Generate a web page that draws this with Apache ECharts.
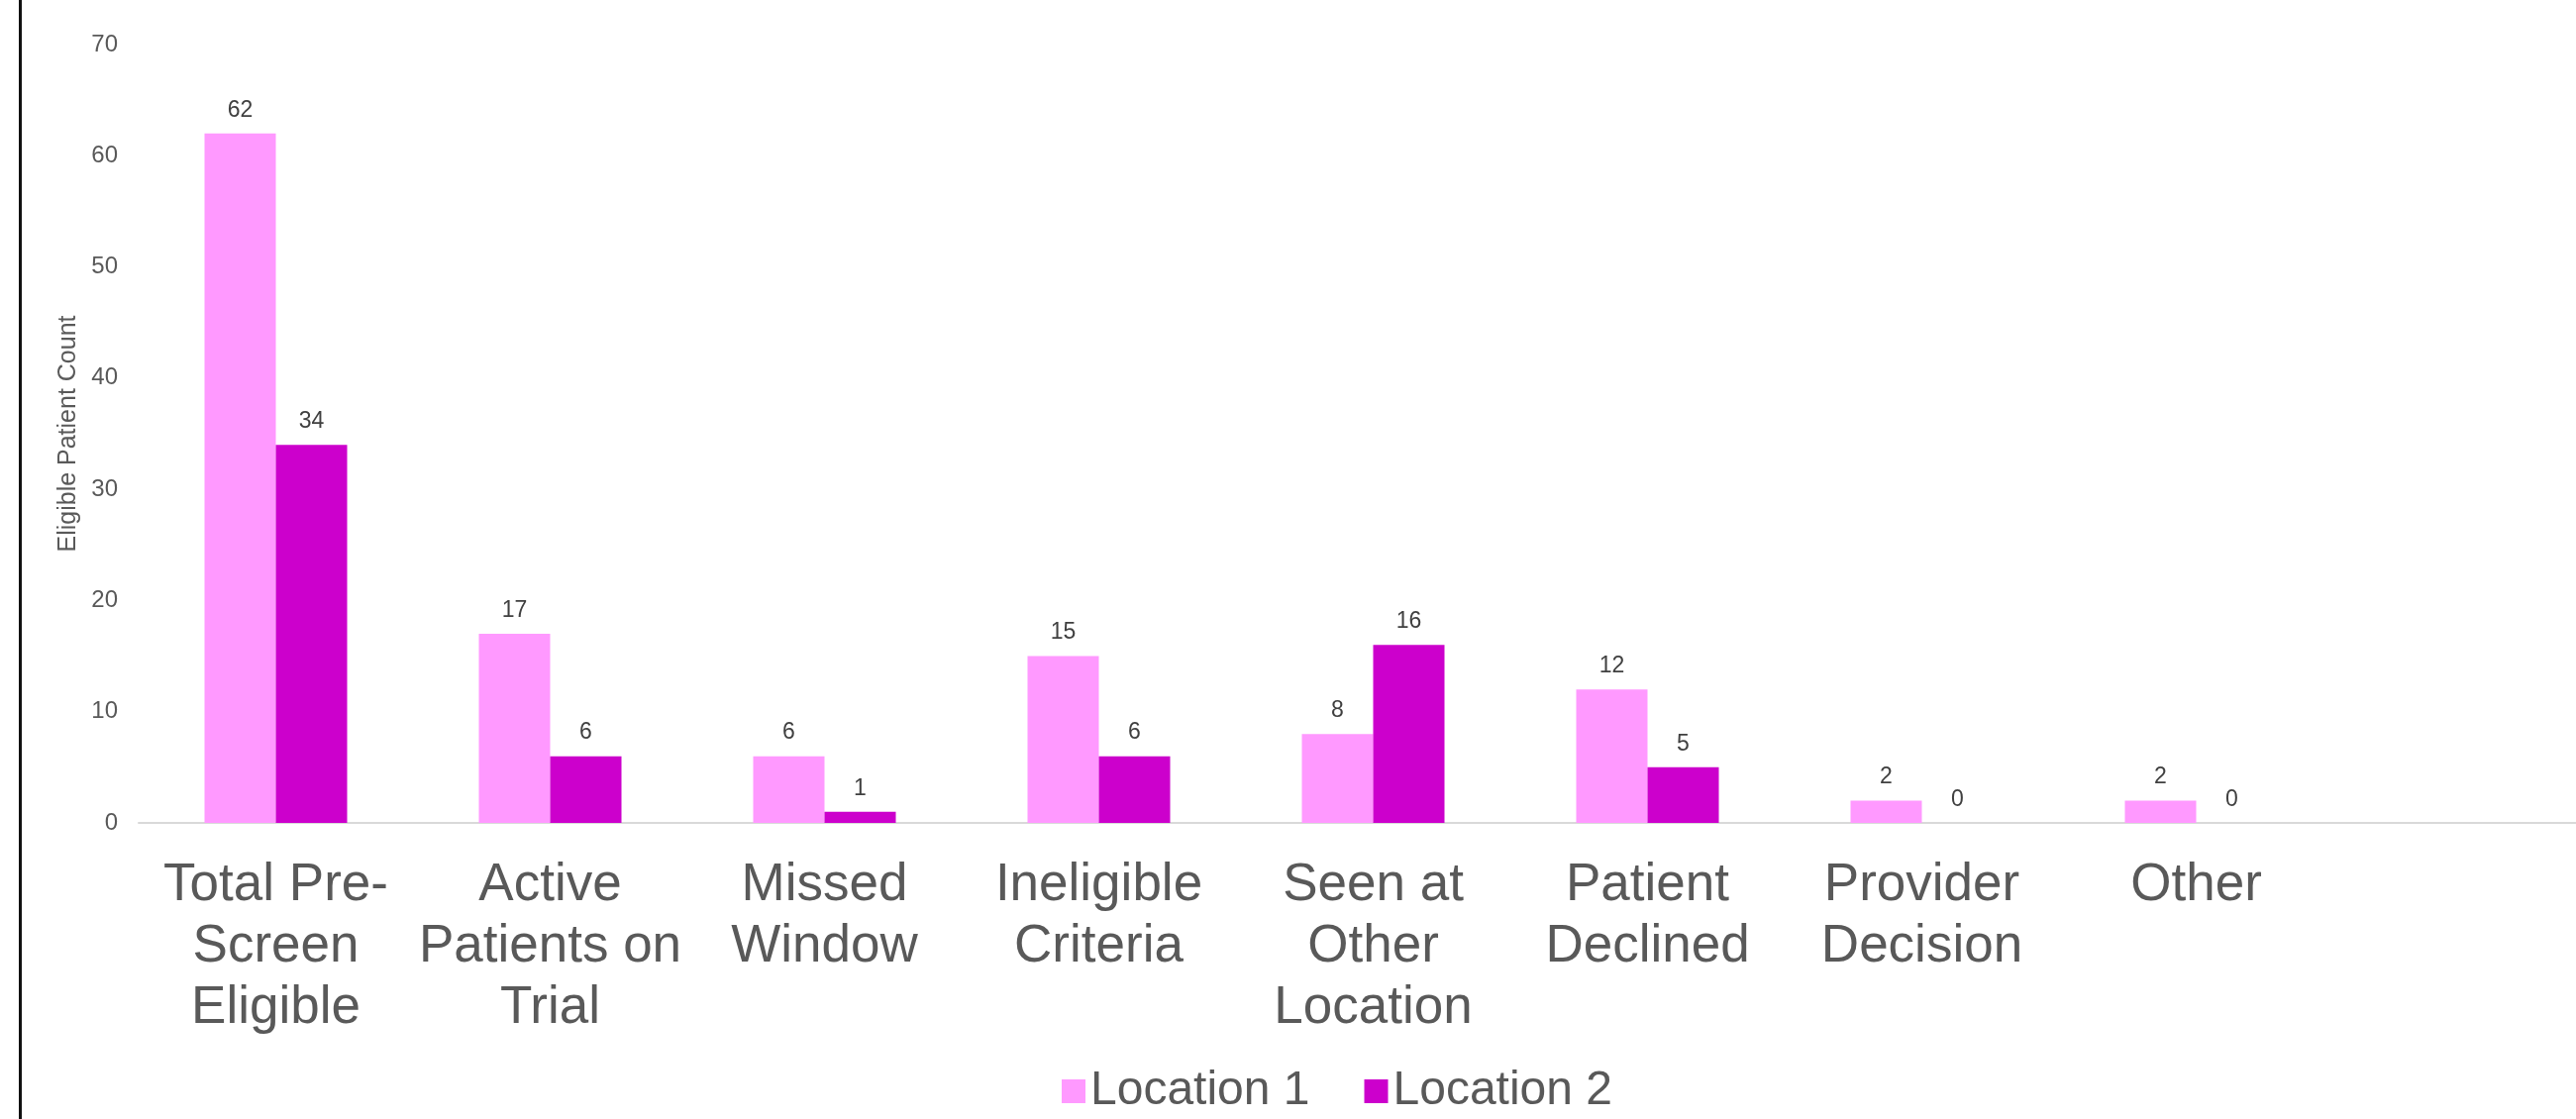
<!DOCTYPE html>
<html>
<head>
<meta charset="utf-8">
<script src="https://cdn.jsdelivr.net/npm/echarts@6/dist/echarts.min.js"></script>
<style>
html,body{margin:0;padding:0;background:#fff;overflow:hidden;width:2601px;height:1130px;}
#chart{width:2633px;height:1130px;}
</style>
</head>
<body>
<div id="chart"></div>
<script>
const categories = ['Total Pre-\nScreen\nEligible', 'Active\nPatients on\nTrial', 'Missed\nWindow', 'Ineligible\nCriteria', 'Seen at\nOther\nLocation', 'Patient\nDeclined', 'Provider\nDecision', 'Other', ''];
const location1 = [62, 17, 6, 15, 8, 12, 2, 2, null];
const location2 = [34, 6, 1, 6, 16, 5, 0, 0, null];
const seriesNames = ['Location 1', 'Location 2'];
const yTicks = { min: 0, max: 70, interval: 10 };
const yAxisName = 'Eligible Patient Count';

const FONT = '"Liberation Sans", Arial, sans-serif';
const chart = echarts.init(document.getElementById('chart'), null, { renderer: 'canvas' });
const labelStyle = {
  show: true, position: 'top', distance: 12,
  color: '#404040', fontSize: 23, fontFamily: FONT
};
chart.setOption({
  animation: false,
  backgroundColor: '#fff',
  graphic: [{
    type: 'rect', shape: { x: 19, y: 0, width: 3, height: 1130 },
    style: { fill: '#111' }
  }],
  legend: {
    left: 1067, top: 1073,
    itemWidth: 24, itemHeight: 24, itemGap: 55,
    icon: 'rect',
    textStyle: { fontSize: 48, color: '#595959', fontFamily: FONT, lineHeight: 48 },
    data: seriesNames
  },
  grid: { left: 140, top: 45, right: 0, bottom: 299, containLabel: false },
  xAxis: {
    type: 'category',
    data: categories,
    axisLine: { show: true, lineStyle: { color: '#D9D9D9', width: 2 } },
    axisTick: { show: false },
    axisLabel: {
      interval: 0, margin: 32,
      fontSize: 53, lineHeight: 62, color: '#595959', fontFamily: FONT, align: 'center'
    }
  },
  yAxis: {
    type: 'value',
    min: yTicks.min, max: yTicks.max, interval: yTicks.interval,
    name: yAxisName, nameLocation: 'middle', nameGap: 58,
    nameTextStyle: { fontSize: 25, color: '#595959', fontFamily: FONT },
    axisLine: { show: false }, axisTick: { show: false },
    splitLine: { show: false },
    axisLabel: { fontSize: 24, color: '#595959', fontFamily: FONT, margin: 21 }
  },
  series: [
    { name: seriesNames[0], type: 'bar', data: location1, barWidth: 72, barGap: '0%',
      itemStyle: { color: '#FF99FF' }, label: labelStyle },
    { name: seriesNames[1], type: 'bar', data: location2, barWidth: 72, barGap: '0%',
      itemStyle: { color: '#CC00CC' }, label: labelStyle }
  ]
});
</script>
</body>
</html>
